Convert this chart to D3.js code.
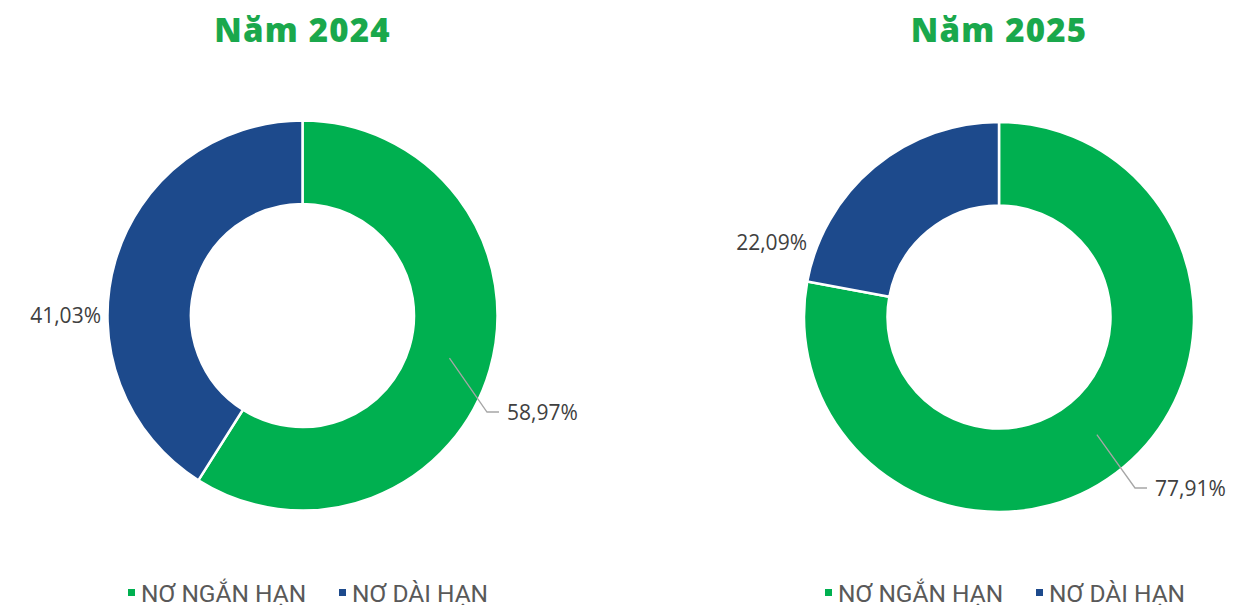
<!DOCTYPE html>
<html>
<head>
<meta charset="utf-8">
<script src="https://cdn.jsdelivr.net/npm/d3@7"></script>
<style>
  body { margin: 0; background: #fff; }
  svg { display: block; }
</style>
</head>
<body>
<svg id="mainsvg" width="1253" height="605"></svg>
<script>
const categories = ['NƠ NGẮN HẠN', 'NƠ DÀI HẠN']
const years = ['Năm 2024', 'Năm 2025']
const values2024 = [58.97, 41.03]
const values2025 = [77.91, 22.09]
const colors = ['#00b050', '#1d4a8c']

const svg = d3.select('#mainsvg')
const color = d3.scaleOrdinal().domain(categories).range(colors)
const fmt = v => d3.format('.2f')(v).replace('.', ',') + '%'

// label spots (absolute), first slice gets a leader line
const labelPos = [
  [{x: 507, y: 420, anchor: 'start', leader: true}, {x: 101, y: 323, anchor: 'end', leader: false}],
  [{x: 1155, y: 496, anchor: 'start', leader: true}, {x: 807, y: 250, anchor: 'end', leader: false}]
]

const charts = [
  {title: years[0], values: values2024, cx: 302.5, cy: 315.5, legendX: [128, 339]},
  {title: years[1], values: values2025, cx: 999, cy: 317, legendX: [825, 1036]}
]

charts.forEach((c, ci) => {
  const g = svg.append('g').attr('transform', `translate(${c.cx},${c.cy})`)
  const data = categories.map((k, i) => ({key: k, value: c.values[i]}))
  const pie = d3.pie().sort(null).value(d => d.value)
  const outerR = 195, innerR = 111.5
  const arc = d3.arc().innerRadius(innerR).outerRadius(outerR)
  const arcs = pie(data)

  g.selectAll('path.slice')
    .data(arcs)
    .join('path')
    .attr('class', 'slice')
    .attr('d', arc)
    .attr('fill', d => color(d.data.key))
    .attr('stroke', '#fff')
    .attr('stroke-width', 2.5)

  arcs.forEach((a, i) => {
    const lp = labelPos[ci][i]
    if (lp.leader) {
      const mid = (a.startAngle + a.endAngle) / 2
      const r0 = 153
      const p0 = [r0 * Math.sin(mid), -r0 * Math.cos(mid)]
      const ly = lp.y - 8 - c.cy
      const elbowX = lp.x - 20 - c.cx
      g.append('path')
        .attr('d', `M${p0[0]},${p0[1]} L${elbowX},${ly} L${lp.x - 8 - c.cx},${ly}`)
        .attr('fill', 'none')
        .attr('stroke', '#a6a6a6')
        .attr('stroke-width', 1.3)
    }
    svg.append('text')
      .attr('x', lp.x)
      .attr('y', lp.y)
      .attr('text-anchor', lp.anchor)
      .attr('font-family', 'Open Sans, sans-serif')
      .attr('font-size', 21)
      .attr('fill', '#404040')
      .text(fmt(a.data.value))
  })

  svg.append('text')
    .attr('x', c.cx)
    .attr('y', 42)
    .attr('text-anchor', 'middle')
    .attr('font-family', 'Open Sans, sans-serif')
    .attr('font-weight', 800)
    .attr('font-size', 33)
    .attr('letter-spacing', 1.2)
    .attr('fill', '#1aa84c')
    .text(c.title)

  categories.forEach((k, i) => {
    svg.append('rect')
      .attr('x', c.legendX[i])
      .attr('y', 589)
      .attr('width', 7)
      .attr('height', 7)
      .attr('fill', color(k))
    svg.append('text')
      .attr('x', c.legendX[i] + 13)
      .attr('y', 602)
      .attr('font-family', 'Roboto, sans-serif')
      .attr('font-size', 24.5)
      .attr('fill', '#595959')
      .text(k)
  })
})
</script>
</body>
</html>
